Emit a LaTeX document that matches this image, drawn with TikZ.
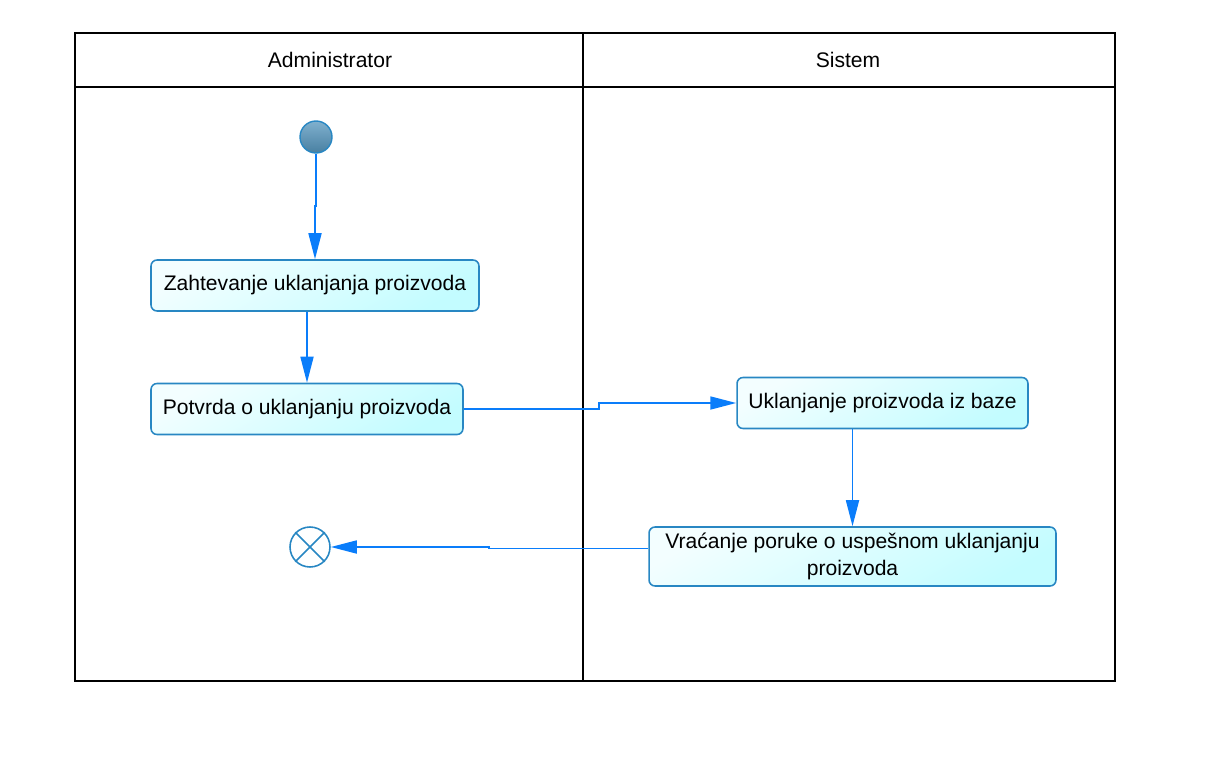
\documentclass[tikz,border=0pt]{standalone}
\usepackage{fontspec}
\setmainfont{Liberation Sans}
\usetikzlibrary{calc,arrows.meta}

\definecolor{flowblue}{RGB}{10,125,250}
\definecolor{boxedge}{RGB}{40,135,195}
\definecolor{boxfill}{RGB}{195,252,255}
\definecolor{startfill}{RGB}{85,150,190}

\tikzset{
	activity/.style={draw=boxedge, line width=0.9pt, rounded corners=0.12cm,
		top color=white!80!boxfill, bottom color=boxfill, shading angle=30,
		minimum height=1.02cm, inner xsep=0.15cm, align=center,
		font=\fontsize{12}{15}\selectfont},
	flow/.style={draw=flowblue, line width=1pt,
		-{Triangle[length=0.52cm, width=0.26cm]}},
	lane/.style={draw=black, line width=0.8pt}
}

\begin{document}
\begin{tikzpicture}[x=0.02cm, y=-0.02cm]
			%%%%% START %%%%%
			
			\useasboundingbox (0, 0) rectangle (1216, 760);
			
			\draw[lane] (75, 33) rectangle (1115, 681);
			\draw[lane] (75, 87) -- (1115, 87);
			\draw[lane] (583, 33) -- (583, 681);
			
			\node[font=\fontsize{12}{14}\selectfont] (adminlane) at (330, 60) {Administrator};
			\node[font=\fontsize{12}{14}\selectfont] (sistemlane) at (848, 60) {Sistem};
			
			\node[circle, draw=boxedge, line width=0.8pt, inner sep=0pt, minimum size=0.64cm,
				top color=startfill!75!white, bottom color=startfill!85!black] (start) at (316, 137) {};
			
			\node[activity, minimum width=6.56cm] (zahtev) at (315, 285.5) {Zahtevanje uklanjanja proizvoda};
			\node[activity, minimum width=6.24cm] (potvrda) at (307, 409) {Potvrda o uklanjanju proizvoda};
			\node[activity, minimum width=5.82cm] (uklanjanje) at (882.5, 403) {Uklanjanje proizvoda iz baze};
			\node[activity, minimum width=8.14cm, minimum height=1.18cm] (poruka) at (852.5, 556.5)
				{Vraćanje poruke o uspešnom uklanjanju\\proizvoda};
			
			\node[circle, draw=boxedge, line width=0.9pt, fill=white, inner sep=0pt,
				minimum size=0.8cm] (kraj) at (310, 547) {};
			\draw[boxedge, line width=0.9pt] (kraj.north east) -- (kraj.south west);
			\draw[boxedge, line width=0.9pt] (kraj.north west) -- (kraj.south east);
			
			\draw[flow] (start.south) -- ++(0, 52) -| (zahtev.north);
			\draw[flow] (potvrda.north |- zahtev.south) -- (potvrda.north);
			\draw[flow] (potvrda.east) -- ++(135, 0) |- (uklanjanje.west);
			\draw[flow] (poruka.north |- uklanjanje.south) -- (poruka.north);
			\draw[flow] ([yshift=0.16cm]poruka.west) -- ++(-159, 0) |- (kraj.east);
			
			%%%%% END %%%%%
\end{tikzpicture}
\end{document}
